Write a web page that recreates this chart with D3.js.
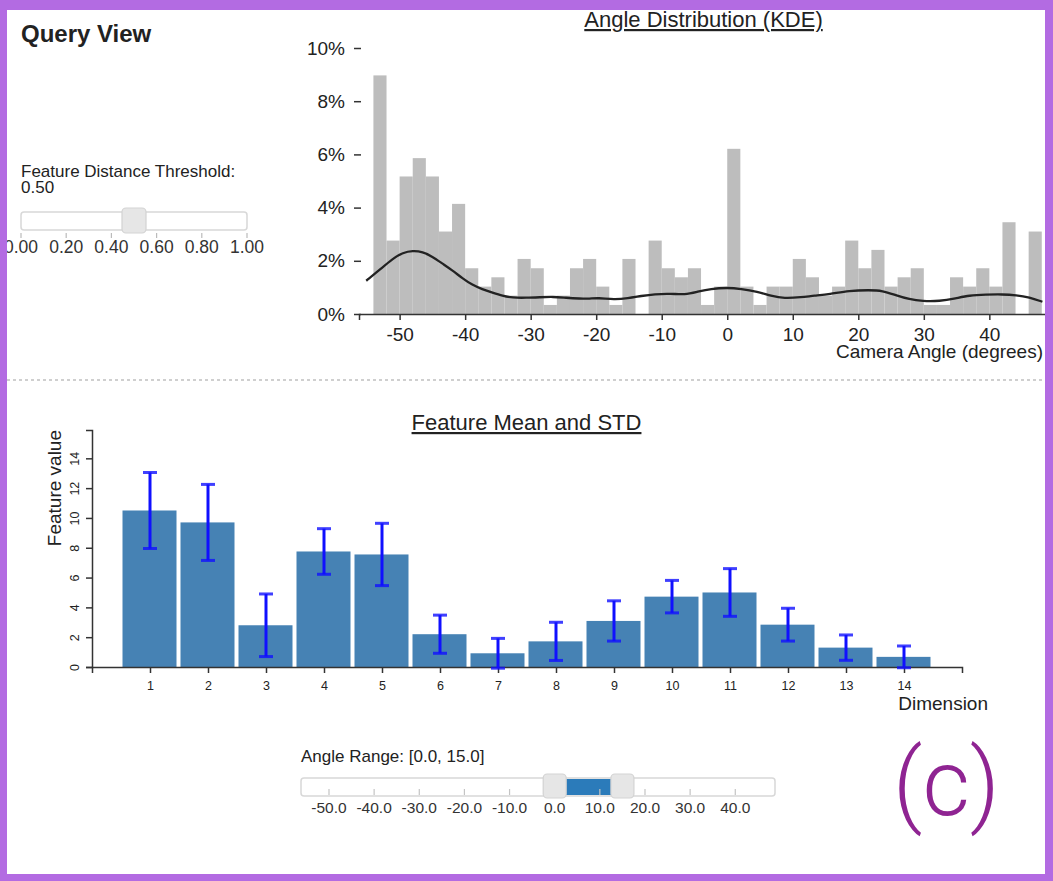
<!DOCTYPE html>
<html>
<head>
<meta charset="utf-8">
<script src="https://cdn.jsdelivr.net/npm/d3@7"></script>
<style>
  body { margin: 0; background: #fff; }
  svg { display: block; font-family: "Liberation Sans", Arial, Helvetica, sans-serif; }
  .axis text { fill: #222; }
  .axis path, .axis line { stroke: #333; stroke-width: 1.5; }
</style>
</head>
<body>
<svg id="view" width="1053" height="881"></svg>
<script>
// ---- Angle histogram: 2-degree bins (start angle) and share of views (%) ----
const angleBinStarts = [-54, -52, -50, -48, -46, -44, -42, -40, -38, -36, -34, -32, -30, -28, -26, -24, -22,
  -20, -18, -16, -14, -12, -10, -8, -6, -4, -2, 0, 2, 4, 6, 8, 10, 12, 14, 16, 18, 20, 22, 24, 26, 28, 30,
  32, 34, 36, 38, 40, 42, 44, 46];
const angleShare = [8.97, 2.76, 5.17, 5.86, 5.17, 3.10, 4.14, 1.72, 1.03, 1.38, 0.69, 2.07, 1.72, 0.34, 0.69,
  1.72, 2.07, 1.03, 0.34, 2.07, 0, 2.76, 1.72, 1.38, 1.72, 0.34, 1.03, 6.21, 1.03, 0.34, 1.03, 1.03, 2.07,
  1.38, 0.69, 1.03, 2.76, 1.72, 2.41, 1.03, 1.38, 1.72, 0.34, 0.34, 1.38, 1.03, 1.72, 1.03, 3.45, 0, 3.10];
const angleBinWidth = 2;

// ---- Kernel density estimate of the camera angle (%) ----
const kdeAngles = [-55.1, -53.1, -51, -49.5, -48, -46.5, -45, -43.5, -42, -40.4, -38.9, -37.4, -35.8, -34.3,
  -32.8, -30.7, -28.6, -26.6, -24.6, -22.5, -21, -19.8, -17.2, -15.2, -13.1, -11.1, -8.6, -6.5, -4.5, -2.5,
  0, 2.1, 4.6, 6.7, 8.7, 11.3, 13.3, 15.6, 18.6, 21.7, 23.7, 25.7, 27.8, 29.8, 32.4, 34.9, 36.9, 39.5, 42,
  44.1, 46.1, 48.1];
const kdeShare = [1.25, 1.65, 2.09, 2.31, 2.38, 2.34, 2.16, 1.9, 1.65, 1.34, 1.09, 0.93, 0.8, 0.68, 0.61,
  0.61, 0.63, 0.65, 0.61, 0.58, 0.57, 0.61, 0.54, 0.59, 0.68, 0.75, 0.77, 0.72, 0.84, 0.95, 0.99, 0.95, 0.84,
  0.68, 0.58, 0.63, 0.69, 0.74, 0.88, 0.9, 0.88, 0.71, 0.55, 0.48, 0.48, 0.59, 0.7, 0.73, 0.74, 0.71, 0.63,
  0.46];

const angleExtent = [-56.2, 48.8];
const shareTicks = [0, 2, 4, 6, 8, 10];

// ---- Feature mean and standard deviation per dimension ----
const dimensions = [1, 2, 3, 4, 5, 6, 7, 8, 9, 10, 11, 12, 13, 14];
const featureMean = [10.5, 9.7, 2.8, 7.75, 7.55, 2.2, 0.92, 1.72, 3.09, 4.72, 5.0, 2.84, 1.3, 0.68];
const featureStd = [2.55, 2.55, 2.1, 1.53, 2.09, 1.28, 1.0, 1.28, 1.35, 1.09, 1.6, 1.1, 0.85, 0.73];
const featureTicks = [0, 2, 4, 6, 8, 10, 12, 14];
const featureAxisMax = 15.9;

// ---- Slider controls ----
const thresholdTicks = [0, 0.2, 0.4, 0.6, 0.8, 1.0];
const thresholdValue = 0.5;
const angleRange = [0.0, 15.0];
const rangeTicks = [-50, -40, -30, -20, -10, 0, 10, 20, 30, 40];

// plain hyphen-minus for negative numbers
const hyphen = s => String(s).replace("\u2212", "-");
const fmt1 = v => hyphen(d3.format(".1f")(v));
const fmt2 = v => hyphen(d3.format(".2f")(v));

const svg = d3.select("#view");

// ================= Query view header and threshold slider =================
svg.append("text").attr("x", 21).attr("y", 42)
  .attr("font-size", 24).attr("font-weight", "bold").attr("fill", "#222")
  .text("Query View");

svg.append("text").attr("x", 21).attr("y", 177).attr("font-size", 17).attr("fill", "#222")
  .text("Feature Distance Threshold:");
svg.append("text").attr("x", 21).attr("y", 193).attr("font-size", 17).attr("fill", "#222")
  .text(fmt2(thresholdValue));

const tScale = d3.scaleLinear().domain([0, 1]).range([21, 247]);
const tSlider = svg.append("g");
tSlider.append("rect").attr("x", tScale(0)).attr("y", 212).attr("width", tScale(1) - tScale(0)).attr("height", 18)
  .attr("rx", 3).attr("fill", "#fff").attr("stroke", "#d8d8d8").attr("stroke-width", 1.5);
tSlider.selectAll("line.tick").data(thresholdTicks).join("line")
  .attr("x1", d => tScale(d)).attr("x2", d => tScale(d)).attr("y1", 233).attr("y2", 238)
  .attr("stroke", "#bbb").attr("stroke-width", 1.2);
tSlider.selectAll("text").data(thresholdTicks).join("text")
  .attr("x", d => tScale(d)).attr("y", 253).attr("text-anchor", "middle")
  .attr("font-size", 17.5).attr("fill", "#333").text(d => fmt2(d));
tSlider.append("rect").attr("x", tScale(thresholdValue) - 12).attr("y", 208).attr("width", 24).attr("height", 25)
  .attr("rx", 4).attr("fill", "#e6e6e6").attr("stroke", "#d3d3d3").attr("stroke-width", 1.2);

// ================= Angle distribution histogram + KDE =================
const hx = d3.scaleLinear().domain(angleExtent).range([359, 1047]);
const hy = d3.scaleLinear().domain([0, 10]).range([314, 48]);

const hist = svg.append("g");
hist.selectAll("rect").data(angleBinStarts).join("rect")
  .attr("x", d => hx(d))
  .attr("width", d => hx(d + angleBinWidth) - hx(d))
  .attr("y", (d, i) => hy(angleShare[i]))
  .attr("height", (d, i) => hy(0) - hy(angleShare[i]))
  .attr("fill", "#bdbdbd");

const kdeLine = d3.line().x(d => hx(d[0])).y(d => hy(d[1])).curve(d3.curveBasis);
hist.append("path").datum(kdeAngles.map((a, i) => [a, kdeShare[i]]))
  .attr("d", kdeLine).attr("fill", "none").attr("stroke", "#222").attr("stroke-width", 2.3);

const hxAxis = hist.append("g").attr("class", "axis").attr("transform", "translate(0,314)")
  .call(d3.axisBottom(hx).ticks(10).tickFormat(d => hyphen(d)).tickSizeOuter(6).tickPadding(8));
hxAxis.selectAll("text").attr("font-size", 19);

const hyAxis = hist.append("g").attr("class", "axis").attr("transform", "translate(361,0)")
  .call(d3.axisLeft(hy).tickValues(shareTicks).tickFormat(d => d + "%").tickSize(7).tickPadding(9));
hyAxis.select(".domain").remove();
hyAxis.selectAll("text").attr("font-size", 19);

hist.append("text").attr("x", 1043).attr("y", 358).attr("text-anchor", "end")
  .attr("font-size", 19).attr("fill", "#222").text("Camera Angle (degrees)");

svg.append("text").attr("x", 703.5).attr("y", 27).attr("text-anchor", "middle")
  .attr("font-size", 22).attr("fill", "#222").attr("text-decoration", "underline")
  .text("Angle Distribution (KDE)");

// ================= Divider =================
svg.append("line").attr("x1", 7).attr("x2", 1045).attr("y1", 380).attr("y2", 380)
  .attr("stroke", "#cfcfcf").attr("stroke-width", 2).attr("stroke-dasharray", "3,3");

// ================= Feature mean / std bar chart =================
const fx = d3.scaleLinear().domain([0, 15]).range([92, 962]);
const fy = d3.scaleLinear().domain([0, featureAxisMax]).range([667, 430]);
const bar = svg.append("g");
const step = fx(1) - fx(0);

bar.selectAll("rect").data(dimensions).join("rect")
  .attr("x", d => fx(d) - step / 2 + 1.5)
  .attr("width", step - 4)
  .attr("y", (d, i) => fy(featureMean[i]))
  .attr("height", (d, i) => fy(0) - fy(featureMean[i]))
  .attr("fill", "#4682b4");

const fxAxis = bar.append("g").attr("class", "axis").attr("transform", "translate(0,667)")
  .call(d3.axisBottom(fx).tickValues(dimensions).tickSizeOuter(6).tickPadding(8));
fxAxis.selectAll("text").attr("font-size", 12.5);

const fyAxis = bar.append("g").attr("class", "axis").attr("transform", "translate(92,0)")
  .call(d3.axisLeft(fy).tickValues(featureTicks).tickSizeOuter(6));
fyAxis.selectAll(".tick text")
  .attr("x", null).attr("dy", null)
  .attr("text-anchor", "middle")
  .attr("font-size", 12.5)
  .attr("transform", "translate(-18,0) rotate(-90)")
  .attr("y", 4.5);

// error bars
const err = bar.append("g").attr("stroke", "#1010ff");
dimensions.forEach((d, i) => {
  const top = fy(featureMean[i] + featureStd[i]);
  const bot = fy(featureMean[i] - featureStd[i]);
  err.append("line").attr("x1", fx(d)).attr("x2", fx(d)).attr("y1", top).attr("y2", bot)
    .attr("stroke-width", 3);
  [top, bot].forEach(yv => {
    err.append("line").attr("x1", fx(d) - 7).attr("x2", fx(d) + 7).attr("y1", yv).attr("y2", yv)
      .attr("stroke-width", 3).attr("stroke-opacity", 0.8);
  });
});

bar.append("text").attr("transform", "translate(61,430) rotate(-90)").attr("text-anchor", "end")
  .attr("font-size", 19).attr("fill", "#222").text("Feature value");
bar.append("text").attr("x", 988).attr("y", 710).attr("text-anchor", "end")
  .attr("font-size", 19).attr("fill", "#222").text("Dimension");

svg.append("text").attr("x", 526.5).attr("y", 430).attr("text-anchor", "middle")
  .attr("font-size", 22).attr("fill", "#222").attr("text-decoration", "underline")
  .text("Feature Mean and STD");

// ================= Angle range slider =================
const rScale = d3.scaleLinear().domain(angleExtent).range([301, 775]);
svg.append("text").attr("x", 301).attr("y", 762).attr("font-size", 17).attr("fill", "#222")
  .text("Angle Range: [" + fmt1(angleRange[0]) + ", " + fmt1(angleRange[1]) + "]");

const rSlider = svg.append("g");
rSlider.append("rect").attr("x", rScale(angleExtent[0])).attr("y", 778)
  .attr("width", rScale(angleExtent[1]) - rScale(angleExtent[0])).attr("height", 18)
  .attr("rx", 3).attr("fill", "#fff").attr("stroke", "#d8d8d8").attr("stroke-width", 1.5);
rSlider.append("rect").attr("x", rScale(angleRange[0])).attr("y", 779)
  .attr("width", rScale(angleRange[1]) - rScale(angleRange[0])).attr("height", 16)
  .attr("fill", "#2b7bba");
rSlider.selectAll("line.tick").data(rangeTicks).join("line")
  .attr("x1", d => rScale(d)).attr("x2", d => rScale(d)).attr("y1", 789).attr("y2", 795)
  .attr("stroke", "#c4c4c4").attr("stroke-width", 1.2);
rSlider.selectAll("text").data(rangeTicks).join("text")
  .attr("x", d => rScale(d)).attr("y", 813).attr("text-anchor", "middle")
  .attr("font-size", 15.5).attr("fill", "#333").text(d => fmt1(d));
rSlider.selectAll("rect.handle").data(angleRange).join("rect").attr("class", "handle")
  .attr("x", d => rScale(d) - 11.5).attr("y", 774).attr("width", 23).attr("height", 24)
  .attr("rx", 4).attr("fill", "#e6e6e6").attr("stroke", "#d3d3d3").attr("stroke-width", 1.2);

// ================= Panel label and frame =================
svg.append("text").attr("x", 893).attr("y", 815)
  .style("font-family", "Roboto, 'Liberation Sans', Arial, sans-serif")
  .attr("font-weight", 300).attr("font-size", 92).attr("fill", "#8f2492")
  .text("(c)");

const frame = svg.append("g").attr("fill", "#b36be2");
frame.append("rect").attr("x", 0).attr("y", 0).attr("width", 1053).attr("height", 10);
frame.append("rect").attr("x", 0).attr("y", 874).attr("width", 1053).attr("height", 7);
frame.append("rect").attr("x", 0).attr("y", 0).attr("width", 7).attr("height", 881);
frame.append("rect").attr("x", 1045).attr("y", 0).attr("width", 8).attr("height", 881);
</script>
</body>
</html>
